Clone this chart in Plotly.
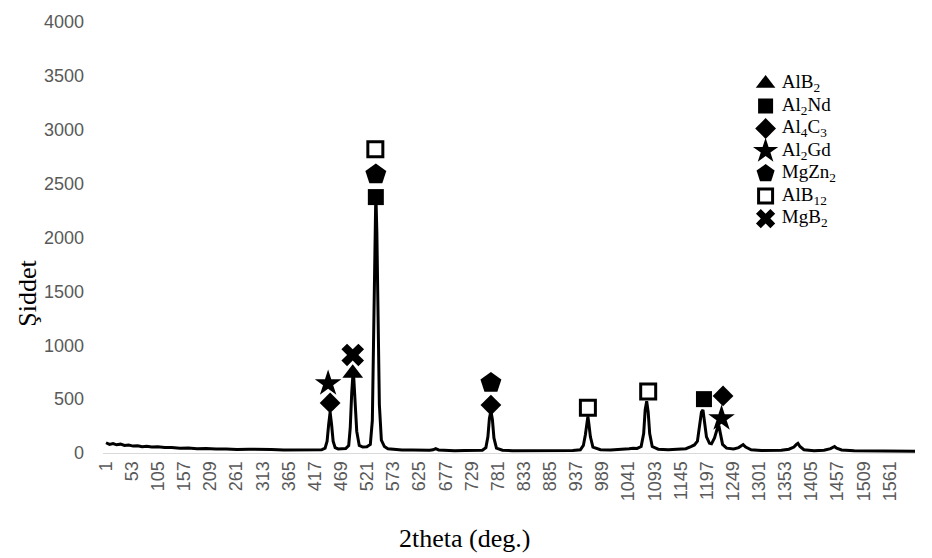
import plotly.graph_objects as go

# ---- data ----
idx = [1, 8, 15, 22, 30, 38, 46, 55, 64, 73, 82, 92, 104, 118, 132, 148, 165, 182, 200, 220,
       240, 262, 285, 308, 330, 355, 380, 400, 418, 430, 437, 441, 444, 447, 450, 453, 457, 463,
       470, 478, 484, 487, 490, 492, 494, 497, 500, 505, 512, 520, 527, 531, 534, 536, 538, 540,
       542, 545, 549, 555, 562, 575, 590, 610, 630, 645, 652, 657, 663, 675, 695, 715, 735, 750,
       757, 761, 764, 767, 770, 773, 778, 790, 810, 835, 860, 885, 910, 930, 945, 951, 955, 958,
       960, 962, 965, 970, 985, 1005, 1025, 1042, 1050, 1058, 1066, 1071, 1074, 1077, 1080, 1083,
       1088, 1100, 1120, 1140, 1155, 1165, 1172, 1178, 1183, 1186, 1189, 1192, 1196, 1202, 1206,
       1212, 1216, 1219, 1221, 1224, 1228, 1236, 1250, 1260, 1265, 1269, 1274, 1285, 1305, 1325,
       1345, 1360, 1370, 1375, 1378, 1382, 1390, 1410, 1430, 1443, 1448, 1451, 1455, 1465, 1490,
       1520, 1550, 1580, 1611]
intensity = [95, 80, 88, 76, 82, 70, 74, 64, 68, 58, 62, 55, 57, 50, 52, 45, 47, 40, 42, 36,
             38, 33, 35, 30, 32, 27, 29, 25, 28, 30, 45, 110, 260, 380, 260, 110, 50, 38,
             40, 42, 70, 230, 560, 700, 700, 480, 200, 70, 55, 58, 80, 300, 1200, 2000, 2420, 2050,
             1300, 450, 120, 60, 40, 32, 28, 27, 25, 26, 30, 40, 28, 24, 22, 24, 22, 26,
             50, 150, 320, 390, 310, 140, 45, 26, 22, 23, 20, 22, 21, 23, 30, 70, 170, 280,
             340, 270, 150, 55, 30, 28, 32, 40, 45, 42, 60, 180, 400, 480, 380, 180,
             60, 35, 30, 32, 40, 60, 75, 110, 260, 380, 400, 300, 150, 90, 85,
             140, 220, 250, 245, 170, 80, 45, 38, 50, 70, 78, 55, 30, 24, 22,
             25, 35, 55, 80, 90, 60, 30, 22, 25, 40, 55, 60, 45, 28, 20,
             18, 17, 18, 16]

tick_vals = list(range(1, 1562, 52))
tick_text = [str(v) for v in tick_vals]
y_ticks = [0, 500, 1000, 1500, 2000, 2500, 3000, 3500, 4000]

phases = ["AlB<sub>2</sub>", "Al<sub>2</sub>Nd", "Al<sub>4</sub>C<sub>3</sub>", "Al<sub>2</sub>Gd",
          "MgZn<sub>2</sub>", "AlB<sub>12</sub>", "MgB<sub>2</sub>"]
alb2_x, alb2_y = [492], [740]
al2nd_x, al2nd_y = [538, 1191], [2375, 500]
al4c3_x, al4c3_y = [447, 767, 1229], [465, 445, 530]
al2gd_x, al2gd_y = [443, 1226], [645, 320]
mgzn2_x, mgzn2_y = [538, 767], [2585, 650]
alb12_x, alb12_y = [537, 960, 1080], [2820, 420, 570]
mgb2_x, mgb2_y = [492], [910]

fig = go.Figure()
fig.add_trace(go.Scatter(x=idx, y=intensity, mode="lines",
                         line=dict(color="black", width=3), showlegend=False,
                         hoverinfo="skip"))

marker_specs = [
    (alb2_x, alb2_y, dict(symbol="triangle-up", size=18, color="black")),
    (al2nd_x, al2nd_y, dict(symbol="square", size=16, color="black")),
    (al4c3_x, al4c3_y, dict(symbol="diamond", size=16, color="black")),
    (al2gd_x, al2gd_y, dict(symbol="star", size=20, color="black")),
    (mgzn2_x, mgzn2_y, dict(symbol="pentagon", size=22, color="black")),
    (alb12_x, alb12_y, dict(symbol="square", size=15, color="white",
                            line=dict(color="black", width=3))),
    (mgb2_x, mgb2_y, dict(symbol="x", size=20, color="black")),
]
for (xs, ys, mk), name in zip(marker_specs, phases):
    fig.add_trace(go.Scatter(x=xs, y=ys, mode="markers", name=name, marker=mk,
                             showlegend=False))

# ---- key (legend) drawn on a small inset axis: one row per phase ----
legend_rows = list(range(len(phases)))
legend_sizes = [17, 15, 16, 19, 19, 14, 17]
for row, ((_, _, mk), name, sz) in enumerate(zip(marker_specs, phases, legend_sizes)):
    lmk = dict(mk)
    lmk["size"] = sz
    fig.add_trace(go.Scatter(x=[0], y=[row], mode="markers", name=name, marker=lmk,
                             xaxis="x2", yaxis="y2", showlegend=False, hoverinfo="skip"))
fig.add_trace(go.Scatter(x=[0.1] * len(phases), y=legend_rows, mode="text", text=phases,
                         textposition="middle right",
                         textfont=dict(family="Liberation Serif", size=19, color="black"),
                         xaxis="x2", yaxis="y2", showlegend=False, hoverinfo="skip"))

fig.update_layout(
    width=932, height=558,
    margin=dict(l=103, r=17, t=15, b=105),
    plot_bgcolor="white", paper_bgcolor="white",
    showlegend=False,
    xaxis=dict(range=[-5, 1611], tickmode="array", tickvals=tick_vals, ticktext=tick_text,
               tickangle=-90, showgrid=False, zeroline=False, showline=True,
               linecolor="#d9d9d9", linewidth=1, ticks="",
               tickfont=dict(family="Liberation Sans", size=18, color="#595959")),
    yaxis=dict(range=[0, 4000], tickmode="array", tickvals=y_ticks, showgrid=False,
               zeroline=False, showline=False, ticks="", ticklabelstandoff=18,
               tickfont=dict(family="Liberation Sans", size=18, color="#595959")),
    xaxis2=dict(domain=[0.80, 1.0], range=[-0.08, 0.92], visible=False, anchor="y2"),
    yaxis2=dict(domain=[0.5177, 0.8835], range=[6.5, -0.5], visible=False, anchor="x2"),
    annotations=[
        dict(text="Şiddet", xref="paper", yref="paper", x=-0.0924, y=0.372, textangle=-90,
             showarrow=False, xanchor="center", yanchor="middle",
             font=dict(family="Liberation Serif", size=26, color="black")),
        dict(text="2theta (deg.)", xref="paper", yref="paper", x=0.4458, y=-0.1986,
             showarrow=False, xanchor="center", yanchor="middle",
             font=dict(family="Liberation Serif", size=26, color="black")),
    ],
)

fig.write_html("out.html", config={"displayModeBar": False},
               post_script="document.body.style.margin='0';")
